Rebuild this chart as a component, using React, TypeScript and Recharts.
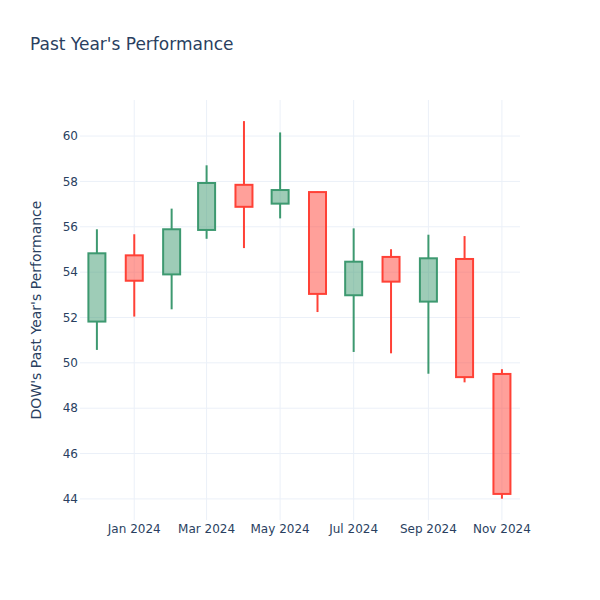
import React from 'react';
import { ComposedChart, Bar, XAxis, YAxis, CartesianGrid } from 'recharts';

const months = [
  '2023-12-01', '2024-01-01', '2024-02-01', '2024-03-01', '2024-04-01', '2024-05-01',
  '2024-06-01', '2024-07-01', '2024-08-01', '2024-09-01', '2024-10-01', '2024-11-01',
];
const openValues = [51.82, 54.74, 53.9, 55.86, 57.85, 57.02, 57.53, 52.98, 54.67, 52.7, 54.58, 49.51];
const highValues = [55.89, 55.67, 56.8, 58.71, 60.66, 60.16, 57.55, 55.93, 55.01, 55.65, 55.59, 49.72];
const lowValues = [50.57, 52.04, 52.36, 55.47, 55.06, 56.37, 52.24, 50.48, 50.42, 49.52, 49.14, 44.01];
const closeValues = [54.83, 53.62, 55.89, 57.93, 56.88, 57.62, 53.04, 54.46, 53.58, 54.61, 49.37, 44.22];

const xTickDates = ['2024-01-01', '2024-03-01', '2024-05-01', '2024-07-01', '2024-09-01', '2024-11-01'];
const xTickLabels = ['Jan 2024', 'Mar 2024', 'May 2024', 'Jul 2024', 'Sep 2024', 'Nov 2024'];
const yTicks = [44, 46, 48, 50, 52, 54, 56, 58, 60];

const xDomainDates = ['2023-11-17', '2024-11-16'];
const yDomain = [43.07, 61.59];

const toTs = (s: string) => Date.parse(s + 'T00:00:00Z');
const xTickTs = xTickDates.map(toTs);
const xDomain = xDomainDates.map(toTs);

const data = months.map((m, i) => ({
  t: toTs(m),
  open: openValues[i],
  high: highValues[i],
  low: lowValues[i],
  close: closeValues[i],
  range: [lowValues[i], highValues[i]],
}));

const FONT = '"DejaVu Sans", sans-serif';
const TEXT = '#2a3f5f';

const Candle = (props: any) => {
  const { x, y, width, height, payload } = props;
  if (x == null || y == null || !payload) return null;
  const top = Math.min(y, y + height);
  const bot = Math.max(y, y + height);
  const { open, close, high, low } = payload;
  const span = high - low;
  const toPx = (v: number) => (span === 0 ? top : top + ((high - v) / span) * (bot - top));
  const cx = x + width / 2;
  const up = close >= open;
  const stroke = up ? '#3D9970' : '#FF4136';
  const fill = up ? 'rgba(61,153,112,0.5)' : 'rgba(255,65,54,0.5)';
  const bTop = toPx(Math.max(open, close));
  const bBot = toPx(Math.min(open, close));
  const hw = 8.5;
  return (
    <g>
      <line x1={cx} x2={cx} y1={top} y2={bTop} stroke={stroke} strokeWidth={2} />
      <line x1={cx} x2={cx} y1={bBot} y2={bot} stroke={stroke} strokeWidth={2} />
      <rect x={cx - hw} y={bTop} width={hw * 2} height={Math.max(bBot - bTop, 0.5)} fill={fill} stroke={stroke} strokeWidth={2} />
    </g>
  );
};

const linMap = (v: number, d0: number, d1: number, r0: number, r1: number) =>
  r0 + ((v - d0) / (d1 - d0)) * (r1 - r0);

const verticalGen = (p: any) => {
  const off = p.offset || { left: 80, width: 440 };
  const sc = p.xAxis && typeof p.xAxis.scale === 'function' ? p.xAxis.scale : null;
  return xTickTs.map((t) => (sc ? sc(t) : linMap(t, xDomain[0], xDomain[1], off.left, off.left + off.width)));
};

const horizontalGen = (p: any) => {
  const off = p.offset || { top: 100, height: 420 };
  const sc = p.yAxis && typeof p.yAxis.scale === 'function' ? p.yAxis.scale : null;
  return yTicks.map((t) => (sc ? sc(t) : linMap(t, yDomain[0], yDomain[1], off.top + off.height, off.top)));
};

export default function App() {
  return (
    <div style={{ position: 'absolute', left: 0, top: 0, width: 600, height: 600, background: '#fff' }}>
      <ComposedChart
        width={600}
        height={600}
        data={data}
        margin={{ top: 100, right: 80, bottom: 50, left: 0 }}
        style={{ fontFamily: FONT }}
      >
        <CartesianGrid
          stroke="#ebf0f8"
          strokeWidth={1}
          verticalCoordinatesGenerator={verticalGen}
          horizontalCoordinatesGenerator={horizontalGen}
        />
        <XAxis
          dataKey="t"
          type="number"
          domain={xDomain}
          allowDataOverflow
          ticks={xTickTs}
          tickFormatter={(v: number) => xTickLabels[xTickTs.indexOf(v)] ?? ''}
          axisLine={false}
          tickLine={false}
          tickSize={0}
          tickMargin={4}
          height={30}
          tick={{ fill: TEXT, fontSize: 12, fontFamily: FONT }}
        />
        <YAxis
          type="number"
          domain={yDomain}
          allowDataOverflow
          ticks={yTicks}
          axisLine={false}
          tickLine={false}
          tickSize={0}
          tickMargin={2}
          width={80}
          tick={{ fill: TEXT, fontSize: 12, fontFamily: FONT }}
        />
        <Bar dataKey="range" barSize={17} shape={<Candle />} isAnimationActive={false} />
      </ComposedChart>
      <svg width={600} height={600} style={{ position: 'absolute', left: 0, top: 0, pointerEvents: 'none' }}>
        <text x={30} y={50} fill={TEXT} fontSize={17} fontFamily={FONT}>
          Past Year's Performance
        </text>
        <text
          x={35.5}
          y={310}
          fill={TEXT}
          fontSize={14}
          fontFamily={FONT}
          textAnchor="middle"
          dominantBaseline="central"
          transform="rotate(-90 35.5 310)"
        >
          DOW's Past Year's Performance
        </text>
      </svg>
    </div>
  );
}
